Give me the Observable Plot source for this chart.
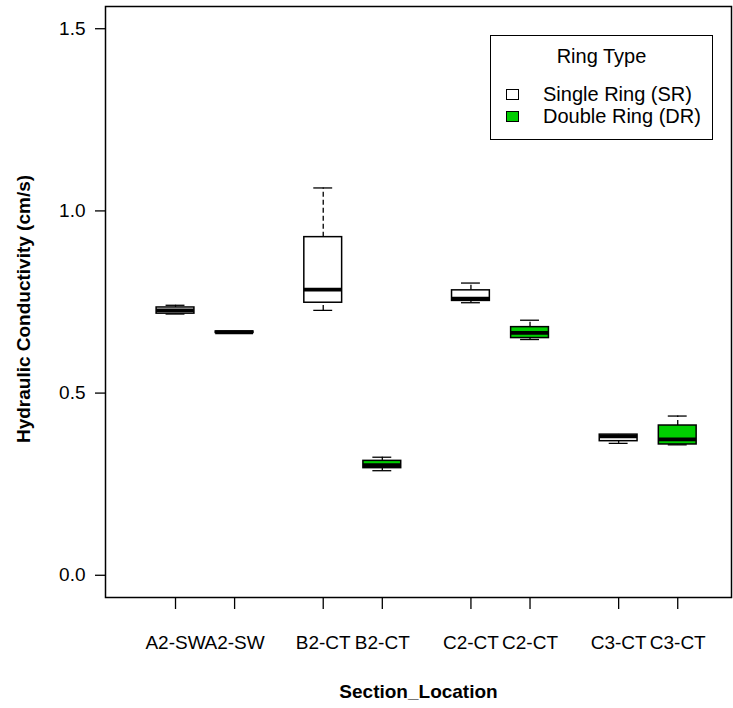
<!DOCTYPE html>
<html>
<head>
<meta charset="utf-8">
<script src="https://cdn.jsdelivr.net/npm/d3@7"></script>
<script src="https://cdn.jsdelivr.net/npm/@observablehq/plot@0.6"></script>
<style>
  html, body { margin: 0; padding: 0; background: #fff; }
  #wrap { position: relative; width: 733px; height: 708px; }
  #legend { position: absolute; left: 490px; top: 35px; width: 223px; height: 105px;
    border: 1.5px solid #000; box-sizing: border-box; background: #fff;
    font-family: "Liberation Sans", Arial, sans-serif; font-size: 20px; color: #000; }
  #legend .title { position: absolute; left: 0; right: 0; top: 9px; text-align: center; }
  #legend .item { position: absolute; left: 15px; height: 22px; line-height: 22px; white-space: nowrap; }
  #legend .sw { display: inline-block; width: 13px; height: 11px; border: 1px solid #000; box-sizing: border-box; vertical-align: middle; margin-right: 24px; position: relative; top: -1px; }
</style>
</head>
<body>
<div id="wrap"></div>
<script>
// ---- data ----
const positions = [1, 2, 3.5, 4.5, 6, 7, 8.5, 9.5];
const sections = ["A2-SW", "A2-SW", "B2-CT", "B2-CT", "C2-CT", "C2-CT", "C3-CT", "C3-CT"];
const ringTypes = ["SR", "DR", "SR", "DR", "SR", "DR", "SR", "DR"];
const lowerWhisker = [0.717, 0.665, 0.727, 0.287, 0.748, 0.647, 0.362, 0.358];
const q1 =           [0.718, 0.665, 0.748, 0.294, 0.753, 0.651, 0.368, 0.359];
const medians =      [0.727, 0.667, 0.784, 0.302, 0.759, 0.665, 0.381, 0.373];
const q3 =           [0.735, 0.669, 0.928, 0.314, 0.782, 0.681, 0.386, 0.411];
const upperWhisker = [0.741, 0.669, 1.063, 0.324, 0.802, 0.700, 0.386, 0.437];
const yTicks = [0, 0.5, 1.0, 1.5];
const ringKeys = ["SR", "DR"];
const ringLabels = ["Single Ring (SR)", "Double Ring (DR)"];
const ringColors = ["#ffffff", "#00cd00"];
const legendTitle = "Ring Type";
const xTitle = "Section_Location";
const yTitle = "Hydraulic Conductivity (cm/s)";

const boxes = positions.map((p, i) => ({
  pos: p, section: sections[i], ring: ringTypes[i],
  lo: lowerWhisker[i], q1: q1[i], med: medians[i], q3: q3[i], hi: upperWhisker[i]
}));

const halfBox = 0.32, halfCap = 0.16;
const font = "'Liberation Sans', Arial, Helvetica, sans-serif";

const chart = Plot.plot({
  width: 733,
  height: 708,
  marginLeft: 105,
  marginRight: 2,
  marginTop: 6,
  marginBottom: 111,
  style: { fontFamily: font, fontSize: "19px", color: "#000", background: "#fff" },
  x: { type: "linear", domain: [-0.185, 10.41] },
  y: { domain: [-0.061, 1.561] },
  color: { domain: ringKeys, range: ringColors },
  marks: [
    Plot.axisY({ ticks: yTicks, tickFormat: d3.format(".1f"), tickSize: 10, tickPadding: 10,
      label: null, fontSize: 19, strokeWidth: 1.3 }),
    Plot.axisX({ ticks: positions, tickFormat: (d) => sections[positions.indexOf(d)],
      tickSize: 12, tickPadding: 26, label: null, fontSize: 19, strokeWidth: 1.3 }),
    Plot.text([xTitle], { frameAnchor: "bottom", dy: 100, fontWeight: "bold", fontSize: 19 }),
    Plot.text([yTitle], { frameAnchor: "left", textAnchor: "middle", dx: -82, dy: 7, rotate: -90, fontWeight: "bold", fontSize: 19 }),
    // whiskers
    Plot.ruleX(boxes, { x: "pos", y1: "q3", y2: "hi", stroke: "#000", strokeWidth: 1.3, strokeDasharray: "5,3" }),
    Plot.ruleX(boxes, { x: "pos", y1: "lo", y2: "q1", stroke: "#000", strokeWidth: 1.3, strokeDasharray: "5,3" }),
    // caps
    Plot.ruleY(boxes, { y: "hi", x1: (d) => d.pos - halfCap, x2: (d) => d.pos + halfCap, stroke: "#000", strokeWidth: 1.3 }),
    Plot.ruleY(boxes, { y: "lo", x1: (d) => d.pos - halfCap, x2: (d) => d.pos + halfCap, stroke: "#000", strokeWidth: 1.3 }),
    // boxes
    Plot.rect(boxes, { x1: (d) => d.pos - halfBox, x2: (d) => d.pos + halfBox, y1: "q1", y2: "q3",
      fill: "ring", stroke: "#000", strokeWidth: 1.5 }),
    // medians
    Plot.ruleY(boxes, { y: "med", x1: (d) => d.pos - halfBox, x2: (d) => d.pos + halfBox, stroke: "#000", strokeWidth: 3.8 }),
    Plot.frame({ stroke: "#000", strokeWidth: 1.5 })
  ]
});

const wrap = document.getElementById("wrap");
wrap.appendChild(chart);

// legend
const lg = document.createElement("div");
lg.id = "legend";
const t = document.createElement("div");
t.className = "title";
t.textContent = legendTitle;
lg.appendChild(t);
ringLabels.forEach((lab, i) => {
  const it = document.createElement("div");
  it.className = "item";
  it.style.top = (47 + i * 22) + "px";
  const sw = document.createElement("span");
  sw.className = "sw";
  sw.style.background = ringColors[i];
  it.appendChild(sw);
  it.appendChild(document.createTextNode(lab));
  lg.appendChild(it);
});
wrap.appendChild(lg);
</script>
</body>
</html>
